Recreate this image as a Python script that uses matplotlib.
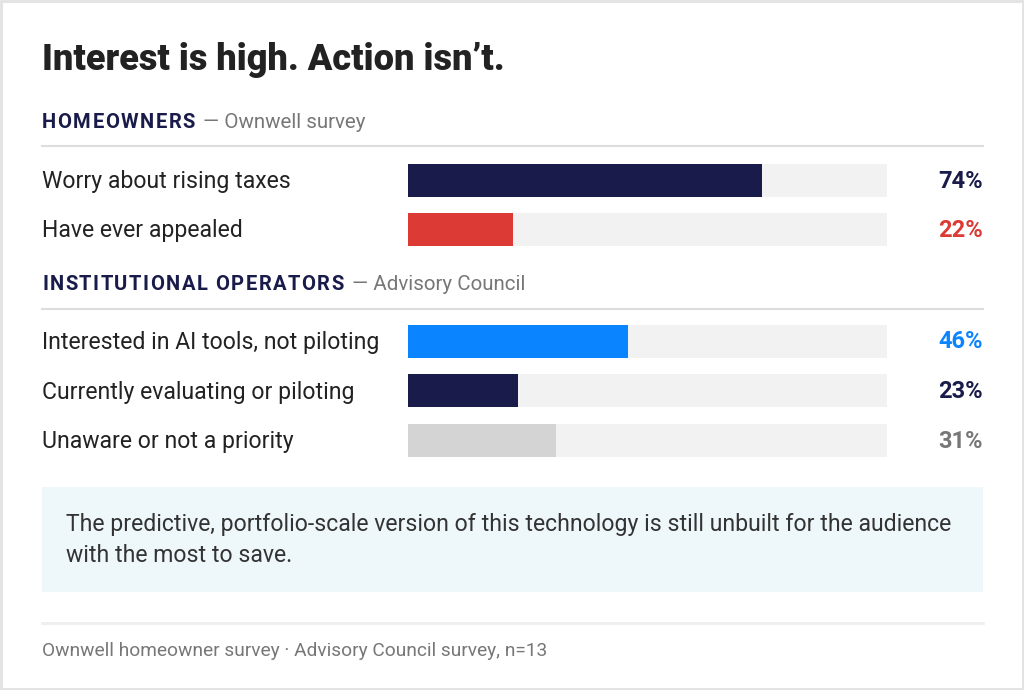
import matplotlib
matplotlib.use("Agg")
import matplotlib.pyplot as plt
from matplotlib.patches import Rectangle

plt.rcParams['font.family'] = ['Roboto', 'DejaVu Sans']

title = "Interest is high. Action isn\u2019t."
sections = ["HOMEOWNERS", "INSTITUTIONAL OPERATORS"]
sources = ["\u2014 Ownwell survey", "\u2014 Advisory Council"]
labels = [
    ["Worry about rising taxes", "Have ever appealed"],
    ["Interested in AI tools, not piloting", "Currently evaluating or piloting",
     "Unaware or not a priority"],
]
values = [[74, 22], [46, 23, 31]]
bar_colors = [["#191c4a", "#dc3a34"], ["#0a84ff", "#191c4a", "#d4d4d4"]]
pct_colors = [["#191c4a", "#dc3a34"], ["#0a84ff", "#191c4a", "#777777"]]
callout = ["The predictive, portfolio-scale version of this technology is still unbuilt for the audience",
           "with the most to save."]
footer = "Ownwell homeowner survey \u00b7 Advisory Council survey, n=13"

W, H = 1024, 690
fig = plt.figure(figsize=(W / 100, H / 100), dpi=100)
fig.patch.set_facecolor("white")

ax = fig.add_axes([0, 0, 1, 1])
ax.set_xlim(0, W)
ax.set_ylim(H, 0)
ax.axis("off")

# bar axes: x in percent, y in pixel rows
bx0, bx1 = 408, 887
bax = fig.add_axes([bx0 / W, 0, (bx1 - bx0) / W, 1])
bax.set_xlim(0, 100)
bax.set_ylim(H, 0)
bax.axis("off")

renderer = fig.canvas.get_renderer()


def spaced_text(x, y, s, spacing, **kw):
    # draw letter-spaced text char by char, return right edge in data px
    for ch in s:
        t = ax.text(x, y, ch, **kw)
        bb = t.get_window_extent(renderer=renderer)
        w = bb.width if ch != " " else kw.get("fontsize", 10) * 100 / 72 * 0.25
        x += w + spacing
    return x - spacing


# outer frame
ax.add_patch(Rectangle((1, 1), W - 2, H - 2, fill=False, ec="#e2e2e2", lw=2))

ax.text(42, 60, title, fontsize=26, fontweight="heavy", color="#222222", va="center")

left, right = 42, 983
head_y = [122, 285]
row_start = [180, 341]
row_gap = 49.5
bar_h = 33

for s in range(len(sections)):
    hy = head_y[s]
    xe = spaced_text(left, hy, sections[s], 1.5, fontsize=14.5, fontweight="bold",
                     color="#191c4a", va="center")
    ax.text(xe + 8, hy, sources[s], fontsize=14.8, color="#777777", va="center")
    ax.plot([left, right], [hy + 24, hy + 24], color="#dddddd", lw=1.5)

    ys = [row_start[s] + i * row_gap for i in range(len(values[s]))]
    bax.barh(ys, [100] * len(ys), height=bar_h, color="#f2f2f2")
    bax.barh(ys, values[s], height=bar_h, color=bar_colors[s])
    for y, lab, v, pc in zip(ys, labels[s], values[s], pct_colors[s]):
        ax.text(left, y + 1.5, lab, fontsize=16.6, color="#222222", va="center")
        ax.text(right, y + 1, f"{v}%", fontsize=17, fontweight="bold", color=pc,
                va="center", ha="right")

# callout box
ax.add_patch(Rectangle((42, 487), 941, 105, fc="#eef7fa", ec="none"))
for i, line in enumerate(callout):
    ax.text(66, 525 + i * 31, line, fontsize=16.6, color="#333333", va="center")

ax.plot([left, right], [623, 623], color="#eeeeee", lw=2)
ax.text(left, 651, footer, fontsize=13.8, color="#777777", va="center")

fig.savefig("out.png", dpi=100, facecolor="white")
